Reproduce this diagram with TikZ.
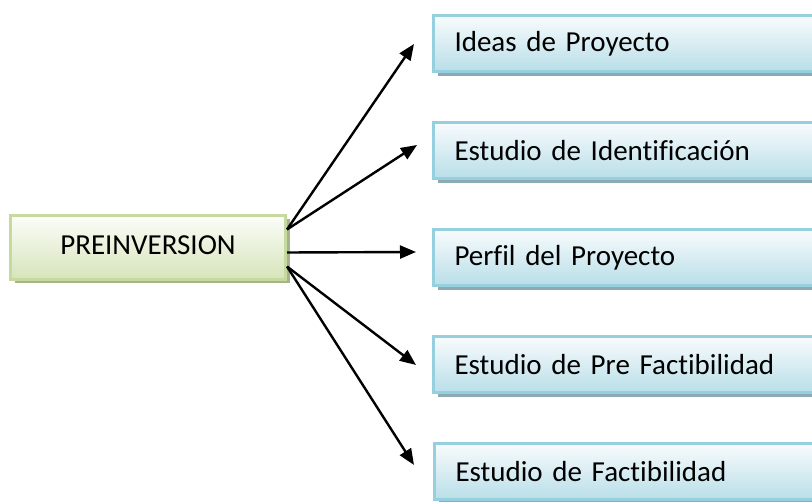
\documentclass[tikz,border=0pt]{standalone}
\usepackage{fontspec}
\setmainfont{Carlito}[WordSpace=0.8, Ligatures=NoCommon]
\usepackage{tikz}
\usetikzlibrary{arrows.meta, positioning, shadows}
\definecolor{greenline}{RGB}{198, 217, 158}
\definecolor{greentop}{RGB}{252, 253, 249}
\definecolor{greenbot}{RGB}{214, 228, 186}
\definecolor{greenshade}{RGB}{166, 180, 138}
\definecolor{blueline}{RGB}{150, 208, 222}
\definecolor{bluetop}{RGB}{248, 251, 253}
\definecolor{bluebot}{RGB}{184, 222, 232}
\definecolor{blueshade}{RGB}{140, 170, 180}

\begin{document}
\begin{tikzpicture}[
    x=1pt, y=-1pt,
    node distance=48pt,
    mainbox/.style={rectangle, draw=greenline, line width=3pt, top color=greentop, bottom color=greenbot,
        minimum width=275pt, minimum height=64pt, text centered, text depth=4pt,
        font=\fontsize{29}{35}\selectfont,
        drop shadow={shadow xshift=4pt, shadow yshift=-4pt, fill=greenshade, opacity=1}},
    box/.style={rectangle, draw=blueline, line width=3pt, top color=bluetop, bottom color=bluebot,
        minimum width=382pt, minimum height=56pt, text width=340pt, align=left, inner xsep=20pt,
        font=\fontsize{29}{35}\selectfont,
        drop shadow={shadow xshift=4pt, shadow yshift=-4pt, fill=blueshade, opacity=1}},
    arrow/.style={-{Triangle[length=16pt, width=13pt]}, line width=2.4pt, black}
]
\clip (0,0) rectangle (812,502);

\node[mainbox] (pre) at (148,247.5) {PREINVERSION};

\node[box, anchor=west] (ideas) at (432,44) {Ideas de Proyecto};
\node[box, below=of ideas] (ident) {Estudio de Identificación};
\node[box, below=of ident] (perfil) {Perfil del Proyecto};
\node[box, below=of perfil] (prefact) {Estudio de Pre Factibilidad};
\node[box, below=of prefact, xshift=1pt] (fact) {Estudio de Factibilidad};

\draw[arrow] ([yshift=18pt]pre.east) -- ([xshift=-18pt]ideas.west);
\draw[arrow] ([yshift=18pt]pre.east) -- ([xshift=-15pt, yshift=6pt]ident.west);
\draw[arrow] ([yshift=-5pt]pre.east) -- ([xshift=-16pt, yshift=6pt]perfil.west);
\draw[arrow] ([yshift=-19pt]pre.east) -- ([xshift=-16pt]prefact.west);
\draw[arrow] ([yshift=-19pt]pre.east) -- ([xshift=-19pt, yshift=7pt]fact.west);

\end{tikzpicture}
\end{document}
